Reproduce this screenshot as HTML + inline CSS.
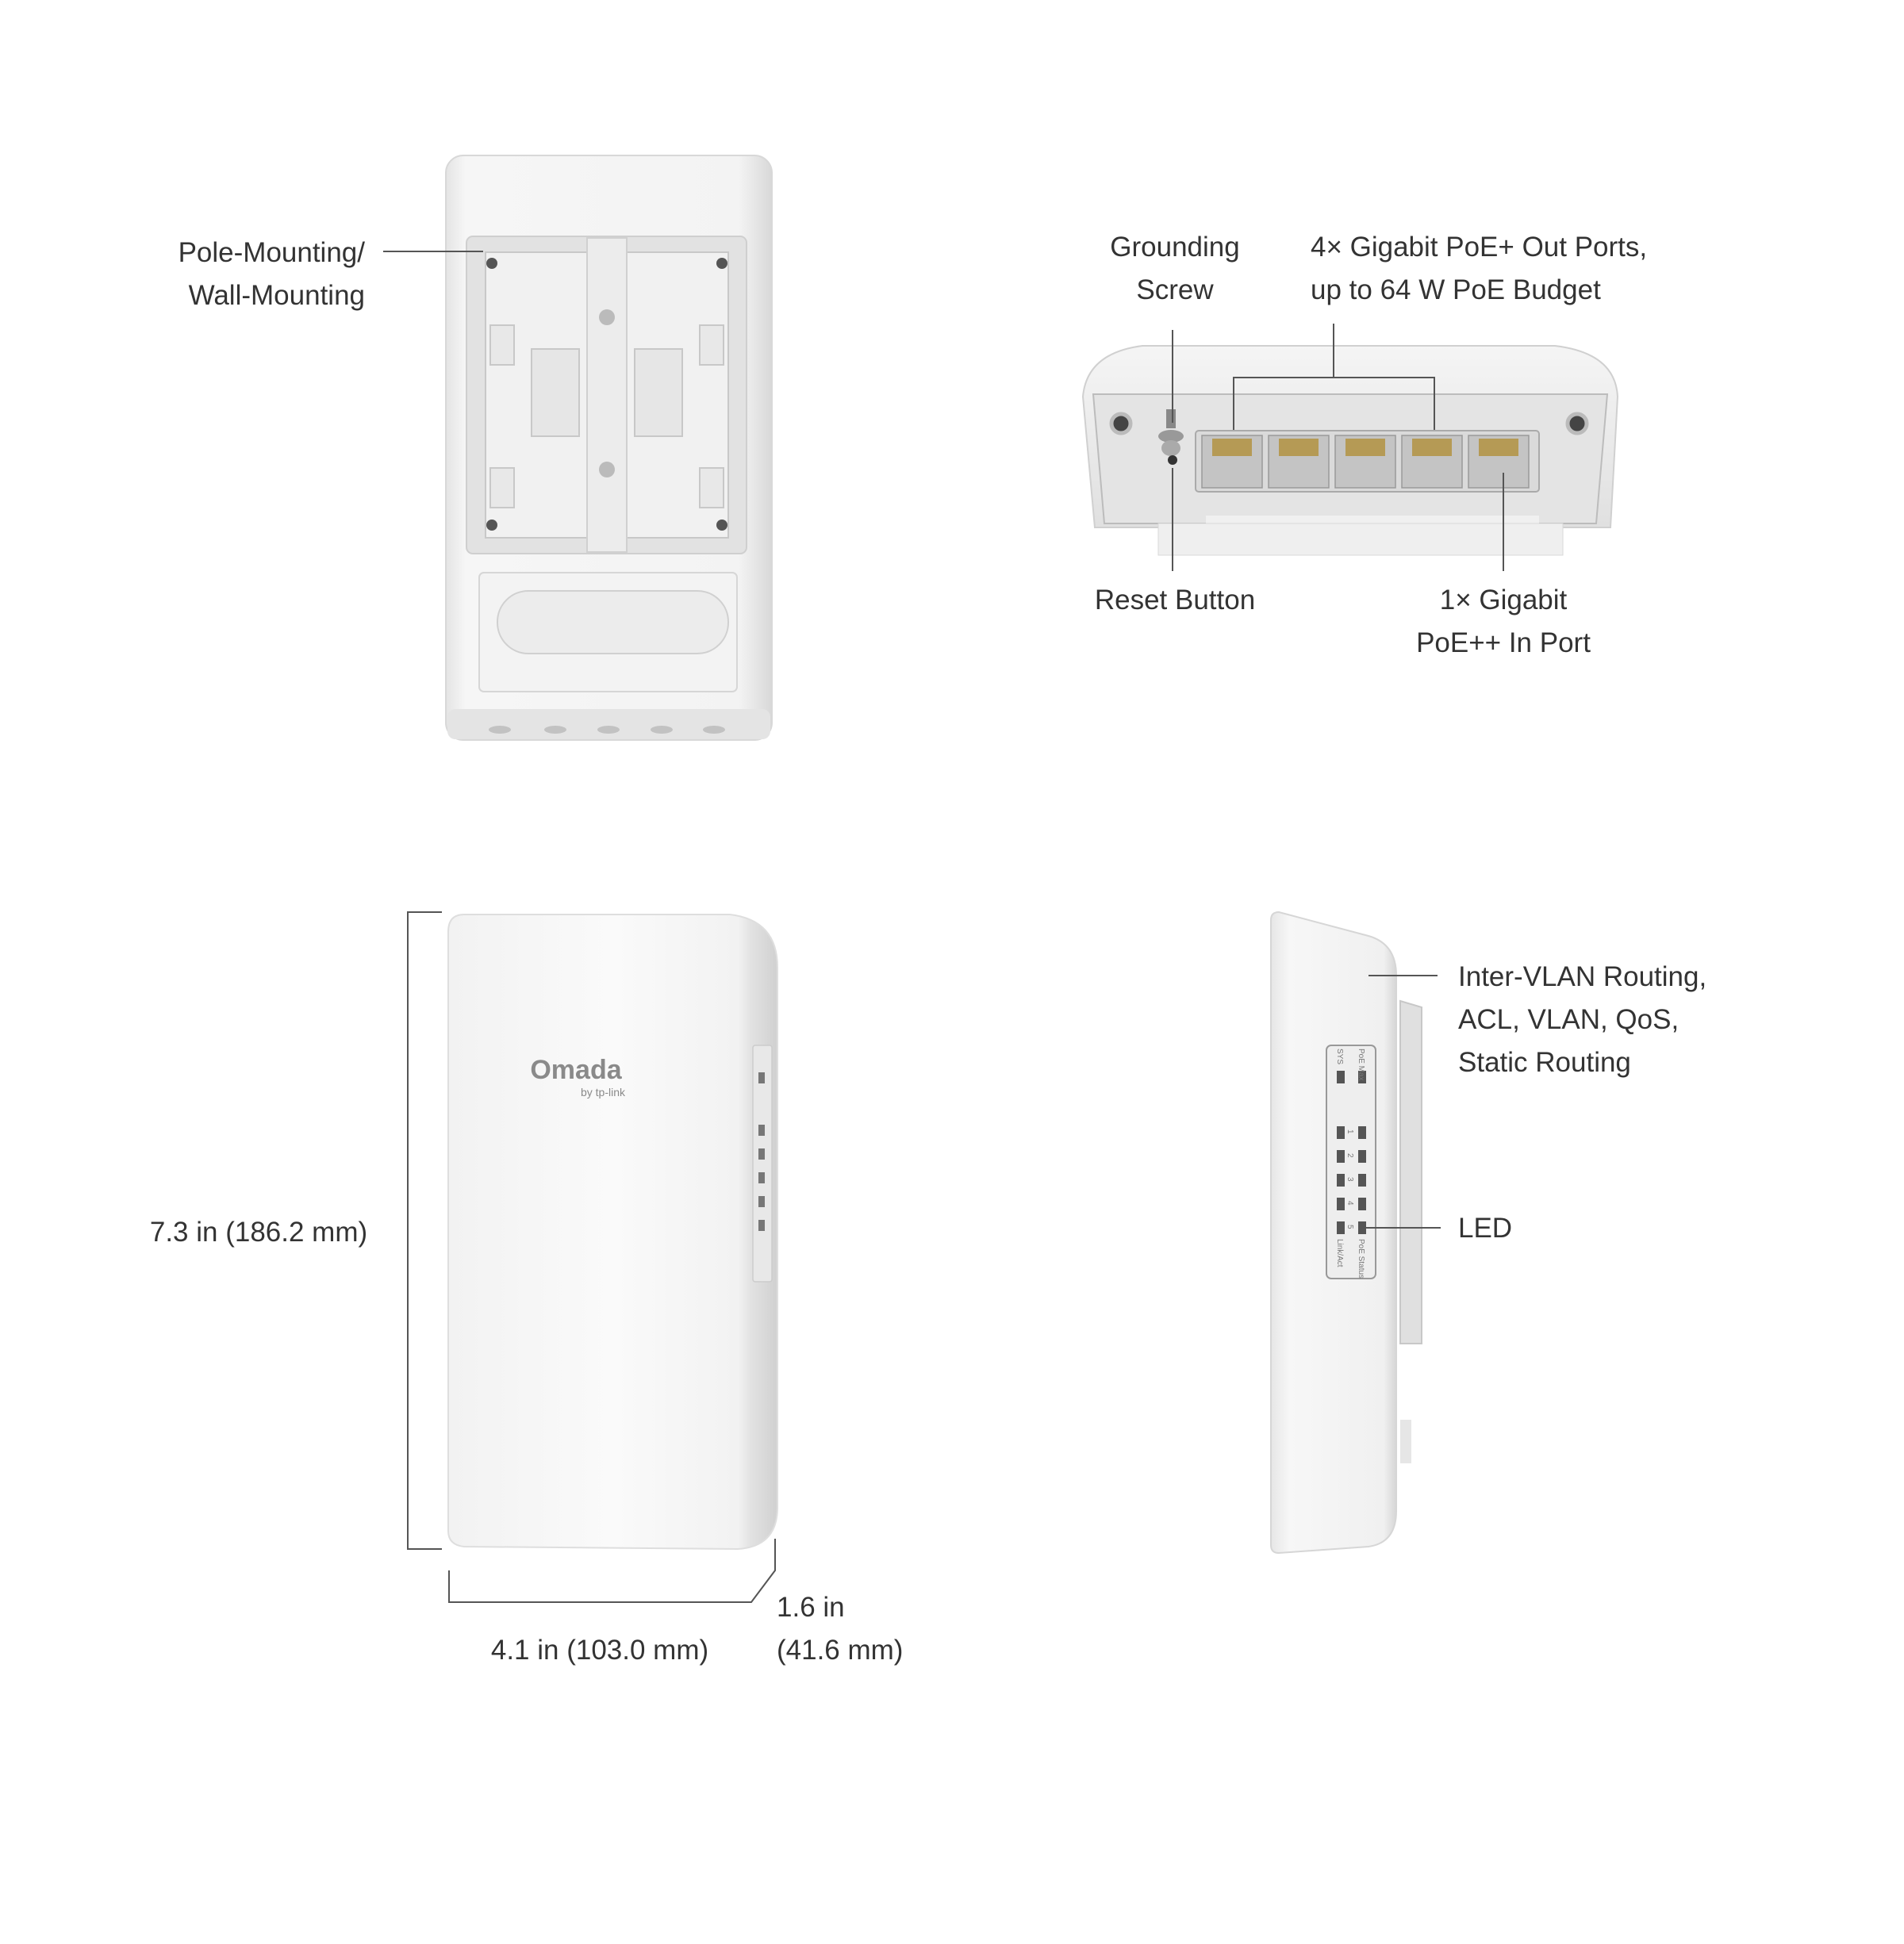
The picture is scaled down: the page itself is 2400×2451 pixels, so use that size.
<!DOCTYPE html>
<html><head><meta charset="utf-8"><style>
html,body{margin:0;padding:0;background:#fff}
svg{display:block}
text{font-family:"Liberation Sans",sans-serif;font-size:35px;fill:#333}
text.s{font-size:10px;fill:#777}
</style></head><body>
<svg width="2400" height="2451" viewBox="0 0 2400 2451" xmlns="http://www.w3.org/2000/svg">
<defs>
<linearGradient id="bodyG" x1="0" x2="1">
<stop offset="0" stop-color="#e4e4e4"/><stop offset="0.06" stop-color="#f6f6f6"/><stop offset="0.9" stop-color="#f3f3f3"/><stop offset="1" stop-color="#d8d8d8"/></linearGradient>
<linearGradient id="frontG" x1="0" x2="1">
<stop offset="0" stop-color="#f2f2f2"/><stop offset="0.5" stop-color="#fafafa"/><stop offset="0.88" stop-color="#f2f2f2"/><stop offset="0.92" stop-color="#e2e2e2"/><stop offset="1" stop-color="#d0d0d0"/></linearGradient>
<linearGradient id="sideG" x1="0" x2="1">
<stop offset="0" stop-color="#e6e6e6"/><stop offset="0.15" stop-color="#f7f7f7"/><stop offset="0.9" stop-color="#f0f0f0"/><stop offset="1" stop-color="#d6d6d6"/></linearGradient>
<linearGradient id="topG" x1="0" y1="0" x2="0" y2="1">
<stop offset="0" stop-color="#f5f5f5"/><stop offset="1" stop-color="#e0e0e0"/></linearGradient>
</defs>

<!-- ============ Back view ============ -->
<rect x="562" y="196" width="411" height="737" rx="22" fill="url(#bodyG)" stroke="#d8d8d8" stroke-width="2"/>
<rect x="588" y="298" width="353" height="400" rx="8" fill="#e2e2e2" stroke="#cfcfcf" stroke-width="2"/>
<rect x="612" y="318" width="128" height="360" fill="#f1f1f1" stroke="#c8c8c8" stroke-width="2"/>
<rect x="790" y="318" width="128" height="360" fill="#f1f1f1" stroke="#c8c8c8" stroke-width="2"/>
<rect x="740" y="300" width="50" height="396" fill="#ececec" stroke="#d0d0d0" stroke-width="2"/>
<rect x="670" y="440" width="60" height="110" fill="#e6e6e6" stroke="#c8c8c8" stroke-width="2"/>
<rect x="800" y="440" width="60" height="110" fill="#e6e6e6" stroke="#c8c8c8" stroke-width="2"/>
<rect x="618" y="410" width="30" height="50" fill="#e8e8e8" stroke="#c8c8c8" stroke-width="2"/>
<rect x="882" y="410" width="30" height="50" fill="#e8e8e8" stroke="#c8c8c8" stroke-width="2"/>
<rect x="618" y="590" width="30" height="50" fill="#e8e8e8" stroke="#c8c8c8" stroke-width="2"/>
<rect x="882" y="590" width="30" height="50" fill="#e8e8e8" stroke="#c8c8c8" stroke-width="2"/>
<circle cx="620" cy="332" r="7" fill="#555"/><circle cx="910" cy="332" r="7" fill="#555"/>
<circle cx="620" cy="662" r="7" fill="#555"/><circle cx="910" cy="662" r="7" fill="#555"/>
<circle cx="765" cy="400" r="10" fill="#bbb"/><circle cx="765" cy="592" r="10" fill="#bbb"/>
<rect x="604" y="722" width="325" height="150" rx="6" fill="#f3f3f3" stroke="#d6d6d6" stroke-width="2"/>
<rect x="627" y="745" width="291" height="79" rx="39" fill="#ececec" stroke="#d0d0d0" stroke-width="2"/>
<rect x="564" y="894" width="407" height="38" rx="10" fill="#e4e4e4"/>
<g fill="#c2c2c2"><ellipse cx="630" cy="920" rx="14" ry="5"/><ellipse cx="700" cy="920" rx="14" ry="5"/><ellipse cx="767" cy="920" rx="14" ry="5"/><ellipse cx="834" cy="920" rx="14" ry="5"/><ellipse cx="900" cy="920" rx="14" ry="5"/></g>

<text x="460" y="330" text-anchor="end">Pole-Mounting/</text>
<text x="460" y="384" text-anchor="end">Wall-Mounting</text>
<line x1="483" y1="317" x2="609" y2="317" stroke="#555" stroke-width="2"/>

<!-- ============ Top-right ports view ============ -->
<path d="M1365 500 Q1370 445 1440 436 L1960 436 Q2036 445 2039 500 L2030 665 L1380 665 Z" fill="url(#topG)" stroke="#d0d0d0" stroke-width="2"/>
<path d="M1378 497 L2026 497 L2012 660 L1392 660 Z" fill="#e4e4e4" stroke="#bcbcbc" stroke-width="2"/>
<rect x="1520" y="650" width="420" height="50" fill="#f0f0f0"/>
<rect x="1460" y="660" width="510" height="40" fill="#efefef" stroke="#d8d8d8" stroke-width="1"/>
<rect x="1507" y="543" width="433" height="77" rx="4" fill="#dadada" stroke="#aaa" stroke-width="2"/>
<g fill="#c4c4c4" stroke="#999" stroke-width="1.5">
<rect x="1515" y="549" width="76" height="66"/><rect x="1599" y="549" width="76" height="66"/><rect x="1683" y="549" width="76" height="66"/><rect x="1767" y="549" width="76" height="66"/><rect x="1851" y="549" width="76" height="66"/></g>
<g fill="#b59a55"><rect x="1528" y="553" width="50" height="22"/><rect x="1612" y="553" width="50" height="22"/><rect x="1696" y="553" width="50" height="22"/><rect x="1780" y="553" width="50" height="22"/><rect x="1864" y="553" width="50" height="22"/></g>
<circle cx="1413" cy="534" r="12" fill="#444" stroke="#bbb" stroke-width="5"/>
<circle cx="1988" cy="534" r="12" fill="#444" stroke="#bbb" stroke-width="5"/>
<rect x="1470" y="516" width="12" height="24" fill="#888"/>
<ellipse cx="1476" cy="550" rx="16" ry="8" fill="#999"/>
<ellipse cx="1476" cy="565" rx="12" ry="10" fill="#aaa"/>
<circle cx="1478" cy="580" r="6" fill="#333"/>

<g stroke="#555" stroke-width="2" fill="none">
<line x1="1478" y1="416" x2="1478" y2="533"/>
<line x1="1478" y1="590" x2="1478" y2="720"/>
<polyline points="1555,542 1555,476 1808,476 1808,542"/>
<line x1="1681" y1="408" x2="1681" y2="476"/>
<line x1="1895" y1="596" x2="1895" y2="720"/>
</g>
<text x="1481" y="323" text-anchor="middle">Grounding</text>
<text x="1481" y="377" text-anchor="middle">Screw</text>
<text x="1652" y="323">4× Gigabit PoE+ Out Ports,</text>
<text x="1652" y="377">up to 64 W PoE Budget</text>
<text x="1481" y="768" text-anchor="middle">Reset Button</text>
<text x="1895" y="768" text-anchor="middle">1× Gigabit</text>
<text x="1895" y="822" text-anchor="middle">PoE++ In Port</text>

<!-- ============ Front view ============ -->
<path d="M585 1153 L920 1153 Q980 1160 980 1220 L980 1900 Q980 1950 930 1953 L585 1950 Q565 1948 565 1930 L565 1175 Q565 1153 585 1153 Z" fill="url(#frontG)" stroke="#dedede" stroke-width="2"/>
<rect x="949" y="1318" width="24" height="298" rx="3" fill="#e8e8e8" stroke="#ccc" stroke-width="1.5"/>
<g fill="#777"><rect x="956" y="1418" width="8" height="14"/><rect x="956" y="1448" width="8" height="14"/><rect x="956" y="1478" width="8" height="14"/><rect x="956" y="1508" width="8" height="14"/><rect x="956" y="1538" width="8" height="14"/><rect x="956" y="1352" width="8" height="14"/></g>
<text x="726" y="1360" text-anchor="middle" style="font-size:34px;font-weight:bold;fill:#8a8a8a">Omada</text>
<text x="760" y="1382" text-anchor="middle" style="font-size:14px;fill:#8a8a8a">by tp-link</text>

<g stroke="#555" stroke-width="2" fill="none">
<polyline points="557,1150 514,1150 514,1953 557,1953"/>
<polyline points="566,1980 566,2020 947,2020 977,1980 977,1940"/>
</g>
<text x="326" y="1565" text-anchor="middle">7.3 in (186.2 mm)</text>
<text x="756" y="2092" text-anchor="middle">4.1 in (103.0 mm)</text>
<text x="979" y="2038">1.6 in</text>
<text x="979" y="2092">(41.6 mm)</text>

<!-- ============ Side view ============ -->
<path d="M1765 1262 L1792 1270 L1792 1694 L1765 1694 Z" fill="#e0e0e0" stroke="#c8c8c8" stroke-width="2"/>
<rect x="1765" y="1790" width="14" height="55" fill="#e6e6e6"/>
<path d="M1612 1150 L1725 1180 Q1760 1190 1760 1230 L1760 1905 Q1760 1945 1725 1950 L1612 1958 Q1602 1958 1602 1948 L1602 1160 Q1602 1150 1612 1150 Z" fill="url(#sideG)" stroke="#d6d6d6" stroke-width="2"/>
<rect x="1672" y="1318" width="62" height="294" rx="6" fill="#eeeeee" stroke="#999" stroke-width="2"/>
<g fill="#555">
<rect x="1685" y="1350" width="10" height="16"/><rect x="1712" y="1350" width="10" height="16"/>
<rect x="1685" y="1420" width="10" height="16"/><rect x="1712" y="1420" width="10" height="16"/>
<rect x="1685" y="1450" width="10" height="16"/><rect x="1712" y="1450" width="10" height="16"/>
<rect x="1685" y="1480" width="10" height="16"/><rect x="1712" y="1480" width="10" height="16"/>
<rect x="1685" y="1510" width="10" height="16"/><rect x="1712" y="1510" width="10" height="16"/>
<rect x="1685" y="1540" width="10" height="16"/><rect x="1712" y="1540" width="10" height="16"/>
</g>
<text class="s" transform="translate(1686,1322) rotate(90)">SYS</text>
<text class="s" transform="translate(1713,1322) rotate(90)">PoE Max</text>
<text class="s" transform="translate(1699,1424) rotate(90)">1</text>
<text class="s" transform="translate(1699,1454) rotate(90)">2</text>
<text class="s" transform="translate(1699,1484) rotate(90)">3</text>
<text class="s" transform="translate(1699,1514) rotate(90)">4</text>
<text class="s" transform="translate(1699,1544) rotate(90)">5</text>
<text class="s" transform="translate(1686,1562) rotate(90)">Link/Act</text>
<text class="s" transform="translate(1713,1562) rotate(90)">PoE Status</text>
<g stroke="#555" stroke-width="2">
<line x1="1725" y1="1230" x2="1812" y2="1230"/>
<line x1="1720" y1="1548" x2="1816" y2="1548"/>
</g>
<text x="1838" y="1243">Inter-VLAN Routing,</text>
<text x="1838" y="1297">ACL, VLAN, QoS,</text>
<text x="1838" y="1351">Static Routing</text>
<text x="1838" y="1560">LED</text>
</svg>
</body></html>
